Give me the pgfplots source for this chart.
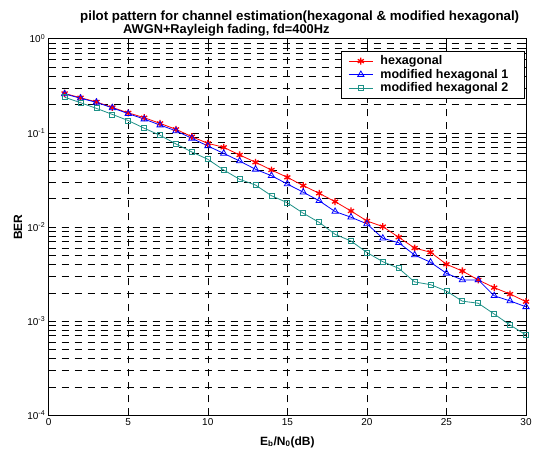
\documentclass[border=0pt]{standalone}
\usepackage{fontspec}
\setmainfont{Liberation Sans}
\usepackage{pgfplots}
\pgfplotsset{compat=1.18}
\definecolor{tealline}{RGB}{30,145,135}

\begin{document}
\begin{tikzpicture}[font=\fontsize{10}{12}\selectfont]
\begin{axis}[
    name=ax,
    scale only axis,
    width=477.3pt, height=376.6pt,
    ymode=log, log basis y=10,
    xmin=0, xmax=30, ymin=1e-4, ymax=1,
    xtick={0,5,...,30},
    xticklabel style={/pgf/number format/assume math mode=true},
    yticklabel={\pgfmathtruncatemacro\e{round(\tick)}10\textsuperscript{\e}},
    tick align=inside,
    major tick length=5pt, minor tick length=3pt,
    axis line style={line width=1pt},
    every tick/.style={black, line width=0.6pt},
    grid=both,
    major grid style={black, line width=0.5pt, dash pattern=on 7pt off 6pt},
    minor grid style={black, line width=0.5pt, dash pattern=on 7pt off 6pt},
    xlabel={\bfseries\fontsize{12}{14}\selectfont E\textsubscript{b}/N\textsubscript{0}(dB)},
    xlabel style={at={(rel axis cs:0.5,-0.079)}, anchor=base},
    ylabel={\bfseries\fontsize{12}{14}\selectfont BER},
    ylabel style={at={(rel axis cs:-0.0643,0.5)}, anchor=center},
    legend cell align=left,
    legend style={at={(0.998,0.968)}, anchor=north east,
        font=\bfseries\fontsize{12.5}{13}\selectfont,
        draw=black, line width=0.8pt, fill=white,
        row sep=0.5pt, column sep=6pt, inner xsep=7pt, inner ysep=3.5pt,
        nodes={inner sep=1.2pt}},
    legend image code/.code={
        \draw[mark repeat=2, mark phase=2] plot coordinates {(0pt,0pt) (12pt,0pt) (24pt,0pt)};},
]
\addplot[red, line width=0.8pt, mark=asterisk, mark size=3.5pt,
    mark options={line width=1.3pt}] coordinates {
(1,0.262) (2,0.236) (3,0.213) (4,0.186) (5,0.163)
(6,0.145) (7,0.126) (8,0.109) (9,0.091) (10,0.0774)
(11,0.0702) (12,0.0582) (13,0.0487) (14,0.0403) (15,0.0337)
(16,0.0275) (17,0.0228) (18,0.0186) (19,0.0148) (20,0.0116)
(21,0.0101) (22,0.00778) (23,0.00598) (24,0.00539) (25,0.00402)
(26,0.00341) (27,0.00274) (28,0.00227) (29,0.00194) (30,0.00161)
};
\addlegendentry{\makebox[136pt][l]{hexagonal}}
\addplot[blue, line width=0.8pt, mark=triangle, mark size=3.6pt,
    mark options={line width=0.8pt}] coordinates {
(1,0.259) (2,0.233) (3,0.211) (4,0.184) (5,0.160)
(6,0.140) (7,0.121) (8,0.105) (9,0.0875) (10,0.0725)
(11,0.0605) (12,0.0502) (13,0.0410) (14,0.0351) (15,0.0286)
(16,0.0234) (17,0.0190) (18,0.0146) (19,0.0127) (20,0.0108)
(21,0.00759) (22,0.00681) (23,0.00504) (24,0.00422) (25,0.00322)
(26,0.00274) (27,0.00274) (28,0.00186) (29,0.00164) (30,0.00142)
};
\addlegendentry{\makebox[136pt][l]{modified hexagonal 1}}
\addplot[tealline, line width=0.8pt, mark=square, mark size=2.5pt,
    mark options={line width=0.8pt}] coordinates {
(1,0.239) (2,0.209) (3,0.182) (4,0.157) (5,0.135)
(6,0.112) (7,0.0942) (8,0.0762) (9,0.0626) (10,0.0524)
(11,0.0403) (12,0.0321) (13,0.0279) (14,0.0215) (15,0.0181)
(16,0.0140) (17,0.0112) (18,0.00836) (19,0.00710) (20,0.00536)
(21,0.00428) (22,0.00364) (23,0.00261) (24,0.00244) (25,0.00209)
(26,0.00163) (27,0.00155) (28,0.00119) (29,0.00091) (30,0.000713)
};
\addlegendentry{\makebox[136pt][l]{modified hexagonal 2}}
\end{axis}
\node[anchor=base west, font=\bfseries\fontsize{13.3}{15}\selectfont, inner sep=0pt]
    at ([shift={(31.3pt,17.9pt)}]ax.north west)
    {pilot pattern for channel estimation(hexagonal \& modified hexagonal)};
\node[anchor=base west, font=\bfseries\fontsize{12.8}{15}\selectfont, inner sep=0pt]
    at ([shift={(74.3pt,5.3pt)}]ax.north west)
    {AWGN+Rayleigh fading, fd=400Hz};
\pgfresetboundingbox
\path[use as bounding box] ([shift={(-48.7pt,-33.7pt)}]ax.south west)
    rectangle ([shift={(14pt,38.7pt)}]ax.north east);
\end{tikzpicture}
\end{document}
